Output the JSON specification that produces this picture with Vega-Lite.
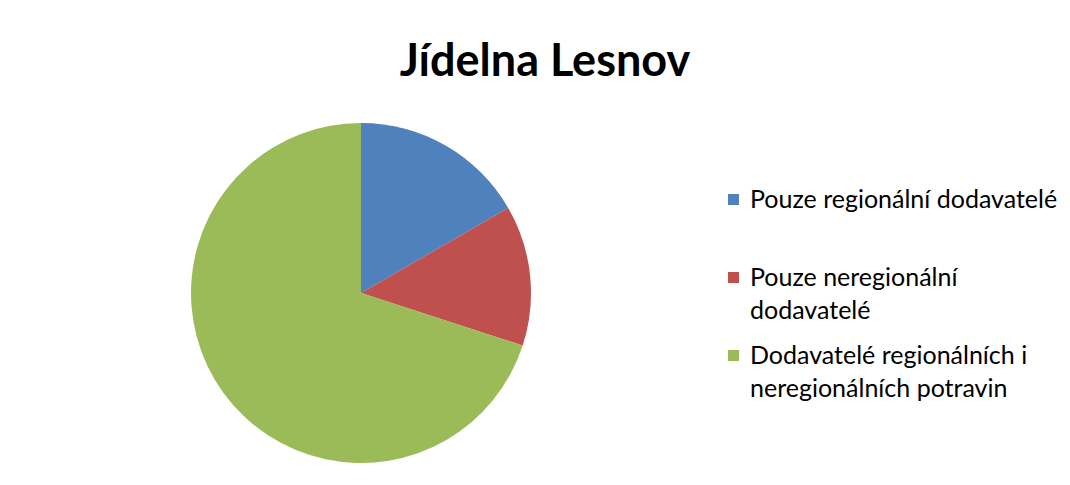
{
  "$schema": "https://vega.github.io/schema/vega-lite/v6.json",
  "autosize": {"type": "none"},
  "width": 706,
  "height": 384,
  "padding": {"left": 8, "top": 101, "right": 356, "bottom": 0},
  "background": "white",
  "title": {
    "text": "Jídelna Lesnov",
    "font": "Lato",
    "fontSize": 45,
    "fontWeight": "bold",
    "color": "#000000",
    "anchor": "middle",
    "frame": "group",
    "dx": 184,
    "offset": 16
  },
  "data": {
    "values": [
      {"kategorie": "Pouze regionální dodavatelé", "pocet": 5, "poradi": 1},
      {"kategorie": "Pouze neregionální dodavatelé", "pocet": 4, "poradi": 2},
      {"kategorie": "Dodavatelé regionálních i neregionálních potravin", "pocet": 21, "poradi": 3}
    ]
  },
  "mark": {"type": "arc", "outerRadius": 170},
  "encoding": {
    "theta": {"field": "pocet", "type": "quantitative", "stack": true},
    "order": {"field": "poradi", "type": "quantitative"},
    "color": {
      "field": "kategorie",
      "type": "nominal",
      "scale": {
        "domain": ["Pouze regionální dodavatelé", "Pouze neregionální dodavatelé", "Dodavatelé regionálních i neregionálních potravin"],
        "range": ["#4F81BD", "#C0504D", "#9BBB59"]
      },
      "legend": {
        "title": null,
        "orient": "none",
        "legendX": 713,
        "legendY": 86,
        "padding": 0,
        "columns": 1,
        "gridAlign": "all",
        "symbolType": "square",
        "symbolSize": 121,
        "symbolStrokeWidth": 0,
        "labelFont": "Lato",
        "labelFontSize": 25,
        "labelColor": "#000000",
        "labelOffset": 4,
        "labelLimit": 400,
        "rowPadding": 19,
        "labelExpr": "datum.label == 'Pouze neregionální dodavatelé' ? ['Pouze neregionální', 'dodavatelé'] : datum.label == 'Dodavatelé regionálních i neregionálních potravin' ? ['Dodavatelé regionálních i', 'neregionálních potravin'] : datum.label",
        "encode": {"labels": {"update": {"lineHeight": {"value": 33}}}}
      }
    }
  },
  "config": {"view": {"stroke": null}}
}
